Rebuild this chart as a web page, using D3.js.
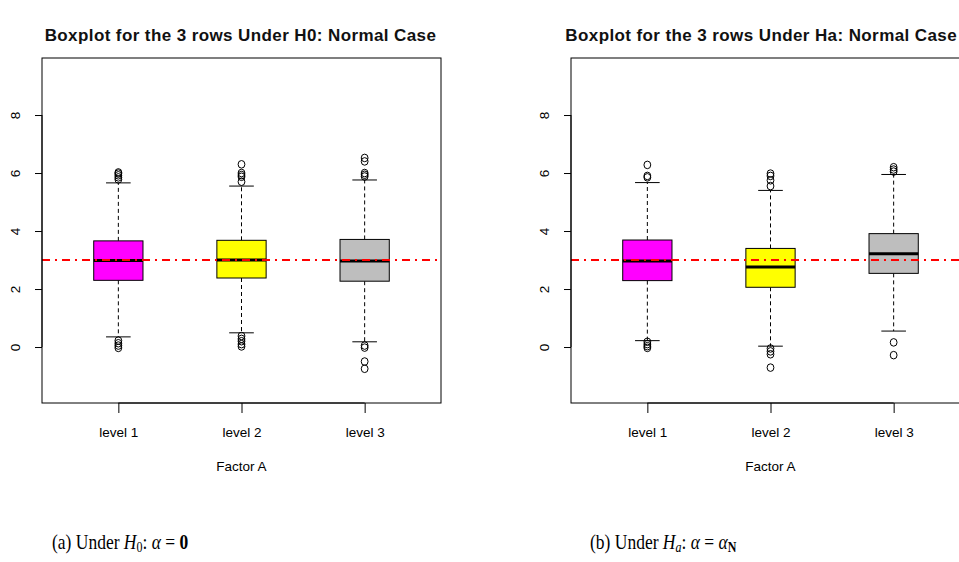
<!DOCTYPE html>
<html>
<head>
<meta charset="utf-8">
<script src="https://cdn.jsdelivr.net/npm/d3@7"></script>
<style>
  html, body { margin: 0; padding: 0; background: #fff; }
  svg { display: block; }
</style>
</head>
<body>
<svg id="chart" width="959" height="562"></svg>
<script>
// Factor levels and axis ticks
const levels = ["level 1", "level 2", "level 3"];
const yTicks = [0, 2, 4, 6, 8];
const boxColors = ["#FF00FF", "#FFFF00", "#BEBEBE"];
const nullMean = 3;

// Five-number summaries under H0 (one value per level)
const h0Low    = [0.35, 0.49, 0.18];
const h0Q1     = [2.30, 2.38, 2.27];
const h0Median = [2.98, 3.00, 2.97];
const h0Q3     = [3.66, 3.68, 3.71];
const h0High   = [5.66, 5.55, 5.76];
const h0Out = [
  [5.78, 5.85, 5.92, 5.98, 6.02, 0.22, 0.13, 0.05, -0.03],
  [6.30, 6.00, 5.93, 5.87, 5.70, 0.38, 0.28, 0.20, 0.10, 0.02],
  [6.52, 6.40, 6.00, 5.94, 5.88, 0.05, -0.02, -0.50, -0.75]
];

// Five-number summaries under Ha
const haLow    = [0.22, 0.03, 0.55];
const haQ1     = [2.29, 2.06, 2.54];
const haMedian = [2.97, 2.76, 3.22];
const haQ3     = [3.69, 3.40, 3.91];
const haHigh   = [5.67, 5.40, 5.95];
const haOut = [
  [6.28, 5.90, 5.85, 0.18, 0.10, 0.03, -0.03],
  [5.98, 5.90, 5.75, 5.55, -0.05, -0.15, -0.25, -0.71],
  [6.20, 6.12, 6.05, 0.16, -0.28]
];

const svg = d3.select("#chart");
const W = 959;
svg.append("rect").attr("width", W).attr("height", 562).attr("fill", "#fff");

const sans = "Liberation Sans, Arial, sans-serif";

function boxPanel(opts) {
  const { left, title, low, q1, med, q3, high, out } = opts;
  const plotW = 399, top = 58, bottom = 403;
  const g = svg.append("g");

  const x = d3.scaleLinear().domain([0.38, 3.62]).range([left, left + plotW]);
  const y = d3.scaleLinear().domain([-1.93, 9.966]).range([bottom, top]);
  const boxHalf = x(1.2) - x(1);          // box half-width (0.2 units)
  const capHalf = boxHalf / 2;

  // title, centred over the panel but kept inside the page
  const tt = g.append("text")
    .attr("x", left + plotW / 2).attr("y", 41)
    .attr("text-anchor", "middle")
    .attr("font-family", sans)
    .attr("font-weight", "bold").attr("font-size", 17)
    .attr("letter-spacing", 0.4)
    .attr("fill", "#111")
    .text(title);
  const tw = tt.node().getComputedTextLength();
  const cxT = Math.min(left + plotW / 2 - 1, W - 2 - tw / 2);
  tt.attr("x", cxT);

  // boxes
  levels.forEach((lv, i) => {
    const cx = x(i + 1);
    const bg = g.append("g");
    // whiskers
    [[q3[i], high[i]], [q1[i], low[i]]].forEach(([a, b]) => {
      bg.append("line").attr("x1", cx).attr("x2", cx)
        .attr("y1", y(a)).attr("y2", y(b))
        .attr("stroke", "#000").attr("stroke-width", 1)
        .attr("stroke-dasharray", "4,3");
      bg.append("line").attr("x1", cx - capHalf).attr("x2", cx + capHalf)
        .attr("y1", y(b)).attr("y2", y(b))
        .attr("stroke", "#000").attr("stroke-width", 1);
    });
    bg.append("rect")
      .attr("x", cx - boxHalf).attr("width", 2 * boxHalf)
      .attr("y", y(q3[i])).attr("height", y(q1[i]) - y(q3[i]))
      .attr("fill", boxColors[i]).attr("stroke", "#000").attr("stroke-width", 1);
    bg.append("line")
      .attr("x1", cx - boxHalf).attr("x2", cx + boxHalf)
      .attr("y1", y(med[i])).attr("y2", y(med[i]))
      .attr("stroke", "#000").attr("stroke-width", 3);
    bg.selectAll("ellipse.out").data(out[i]).join("ellipse")
      .attr("class", "out")
      .attr("cx", cx).attr("cy", d => y(d)).attr("rx", 3.4).attr("ry", 3.8)
      .attr("fill", "none").attr("stroke", "#000").attr("stroke-width", 1);
  });

  // reference line at the null mean
  g.append("line")
    .attr("x1", left).attr("x2", left + plotW)
    .attr("y1", y(nullMean)).attr("y2", y(nullMean))
    .attr("stroke", "#FF0000").attr("stroke-width", 2)
    .attr("stroke-dasharray", "8,5,2,5");

  // frame
  g.append("rect")
    .attr("x", left).attr("y", top).attr("width", plotW).attr("height", bottom - top)
    .attr("fill", "none").attr("stroke", "#000").attr("stroke-width", 1);

  // y axis (rotated labels)
  const yAxis = g.append("g").attr("transform", `translate(${left},0)`)
    .call(d3.axisLeft(y).tickValues(yTicks).tickSize(7).tickPadding(0).tickFormat(d3.format("d")));
  yAxis.select(".domain").attr("d", `M0,${y(0)}V${y(8)}`).attr("stroke", "#000");
  yAxis.selectAll(".tick line").attr("stroke", "#000");
  yAxis.selectAll(".tick text")
    .attr("font-family", sans).attr("font-size", 13.5)
    .attr("fill", "#000")
    .attr("x", 0).attr("dy", null)
    .attr("text-anchor", "middle")
    .attr("transform", "translate(-27,0) rotate(-90)")
    .attr("dominant-baseline", "central");

  // x axis
  const xAxis = g.append("g").attr("transform", `translate(0,${bottom})`)
    .call(d3.axisBottom(x).tickValues([1, 2, 3]).tickSize(10).tickPadding(0)
      .tickFormat(d => levels[d - 1]));
  xAxis.select(".domain").attr("d", `M${x(1)},0H${x(3)}`).attr("stroke", "#000");
  xAxis.selectAll(".tick line").attr("stroke", "#000");
  xAxis.selectAll(".tick text")
    .attr("font-family", sans).attr("font-size", 13.5)
    .attr("fill", "#000").attr("y", 34).attr("dy", null);

  g.append("text")
    .attr("x", left + plotW / 2).attr("y", 471)
    .attr("text-anchor", "middle")
    .attr("font-family", sans).attr("font-size", 13.5)
    .text("Factor A");
}

boxPanel({ left: 42, title: "Boxplot for the 3 rows Under H0: Normal Case",
  low: h0Low, q1: h0Q1, med: h0Median, q3: h0Q3, high: h0High, out: h0Out });
boxPanel({ left: 571, title: "Boxplot for the 3 rows Under Ha: Normal Case",
  low: haLow, q1: haQ1, med: haMedian, q3: haQ3, high: haHigh, out: haOut });

// sub-figure captions (slightly tall serif lettering)
function caption(xPos, parts) {
  const t = svg.append("text")
    .attr("transform", `translate(${xPos},549) scale(1,1.15)`)
    .attr("font-family", "Liberation Serif, Times New Roman, serif").attr("font-size", 17.5);
  parts.forEach(p => {
    const s = t.append("tspan").text(p.t);
    if (p.i) s.attr("font-style", "italic");
    if (p.b) s.attr("font-weight", "bold");
    if (p.sub) s.attr("font-size", 12).attr("baseline-shift", "-25%");
  });
}
caption(52, [
  { t: "(a) Under " }, { t: "H", i: true }, { t: "0", sub: true },
  { t: ": " }, { t: "α", i: true }, { t: " = " }, { t: "0", b: true }
]);
caption(590, [
  { t: "(b) Under " }, { t: "H", i: true }, { t: "a", i: true, sub: true },
  { t: ": " }, { t: "α", i: true }, { t: " = " }, { t: "α", i: true },
  { t: "N", b: true, sub: true }
]);
</script>
</body>
</html>
